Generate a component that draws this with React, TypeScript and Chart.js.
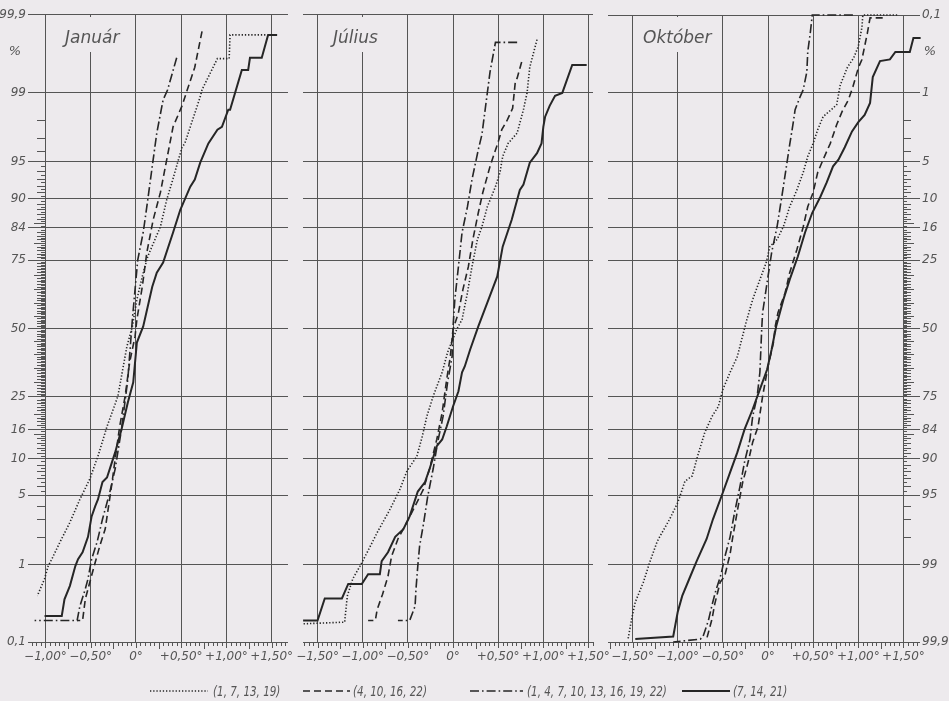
import React, { useEffect, useRef } from "react";
import { Chart, registerables } from "chart.js";
Chart.register(...registerables);

// ---------------- data ----------------
// y grid / label percentages (probability scale)
const yTickPercents = [0.1, 1, 5, 10, 16, 25, 50, 75, 84, 90, 95, 99, 99.9];
const yTickLabels = ["0,1", "1", "5", "10", "16", "25", "50", "75", "84", "90", "95", "99", "99,9"];

const xTicksJan = [-1, -0.5, 0, 0.5, 1, 1.5];
const xLabelsJan = ["\u22121,00\u00b0", "\u22120,50\u00b0", "0\u00b0", "+0,50\u00b0", "+1,00\u00b0", "+1,50\u00b0"];
const xTicksWide = [-1.5, -1, -0.5, 0, 0.5, 1, 1.5];
const xLabelsWide = ["\u22121,50\u00b0", "\u22121,00\u00b0", "\u22120,50\u00b0", "0\u00b0", "+0,50\u00b0", "+1,00\u00b0", "+1,50\u00b0"];

const panelTitles = ["Január", "Július", "Október"];
const legendLabels = ["(1, 7, 13, 19)", "(4, 10, 16, 22)", "(1, 4, 7, 10, 13, 16, 19, 22)", "(7, 14, 21)"];

// [deviation °C, cumulative %]
const janDotted = [[1.43,99.81],[1.04,99.81],[1.03,99.61],[0.9,99.61],[0.73,99.07],[0.71,98.88],[0.54,96.6],[0.51,96.3],[0.46,94.9],[0.40,92.6],[0.34,89.8],[0.27,84.2],[0.13,76.1],[0.07,69.6],[0.01,61.2],[-0.04,50.8],[-0.10,43.0],[-0.20,25.2],[-0.32,16.7],[-0.42,10.4],[-0.51,6.9],[-0.62,4.6],[-0.73,2.8],[-0.84,1.76],[-0.93,1.15],[-0.97,0.96],[-1.01,0.68],[-1.09,0.42]];
const janDashed = [[0.73,99.83],[0.65,99.5],[0.56,99.02],[0.51,98.6],[0.41,97.66],[0.34,95.2],[0.27,91.0],[0.19,85.8],[0.12,77.3],[0.07,66.0],[0.01,53.5],[-0.01,46.9],[-0.07,36.9],[-0.12,25.2],[-0.18,16.7],[-0.23,9.9],[-0.27,6.0],[-0.34,2.4],[-0.40,1.6],[-0.45,1.06],[-0.51,0.62],[-0.56,0.38],[-0.59,0.2],[-0.65,0.2]];
const janDashDot = [[0.45,99.62],[0.35,99.07],[0.30,98.79],[0.23,97.3],[0.18,94.5],[0.12,88.5],[0.08,82.8],[0.02,75.1],[-0.01,65.0],[-0.04,53.5],[-0.09,30.8],[-0.16,16.0],[-0.23,8.3],[-0.29,5.3],[-0.37,3.0],[-0.43,1.76],[-0.49,1.15],[-0.53,0.68],[-0.56,0.51],[-0.62,0.31],[-0.65,0.2],[-1.12,0.2]];
const janSolid = [[1.56,99.81],[1.46,99.81],[1.39,99.62],[1.26,99.62],[1.24,99.46],[1.17,99.46],[1.04,98.45],[1.02,98.45],[0.95,97.66],[0.90,97.5],[0.80,96.6],[0.71,94.9],[0.65,92.9],[0.60,91.9],[0.49,87.9],[0.41,82.8],[0.30,74.2],[0.23,70.9],[0.18,66.0],[0.08,50.8],[0.01,44.5],[-0.03,29.8],[-0.09,23.3],[-0.16,16.0],[-0.23,11.1],[-0.32,7.1],[-0.37,6.5],[-0.42,4.6],[-0.45,4.0],[-0.49,3.2],[-0.53,2.0],[-0.59,1.37],[-0.64,1.15],[-0.67,0.96],[-0.73,0.56],[-0.79,0.38],[-0.82,0.23],[-1.01,0.23]];

const julDotted = [[0.93,99.78],[0.85,99.5],[0.82,98.99],[0.78,98.45],[0.71,97.3],[0.61,96.6],[0.55,95.5],[0.52,93.8],[0.47,91.9],[0.38,88.5],[0.32,84.2],[0.27,81.0],[0.21,72.9],[0.16,63.8],[0.10,53.5],[0.04,49.6],[-0.06,40.7],[-0.12,33.3],[-0.22,25.2],[-0.29,19.3],[-0.34,14.4],[-0.40,10.4],[-0.51,8.0],[-0.59,5.6],[-0.70,3.7],[-0.83,2.3],[-0.95,1.37],[-1.03,0.96],[-1.11,0.68],[-1.17,0.42],[-1.20,0.19],[-1.66,0.18]];
const julDashed = [[0.76,99.57],[0.71,99.32],[0.69,99.25],[0.66,98.5],[0.60,98.0],[0.54,97.5],[0.50,96.7],[0.41,94.5],[0.33,91.0],[0.28,87.3],[0.22,81.0],[0.17,72.9],[0.11,65.0],[0.06,56.2],[0.0,49.6],[-0.03,39.1],[-0.07,30.8],[-0.12,20.4],[-0.18,13.7],[-0.26,8.3],[-0.33,5.6],[-0.44,3.7],[-0.53,2.6],[-0.61,1.9],[-0.68,1.24],[-0.72,0.73],[-0.78,0.44],[-0.84,0.28],[-0.86,0.2],[-0.94,0.2]];
const julDashDot = [[0.71,99.76],[0.47,99.76],[0.41,99.43],[0.37,98.79],[0.32,97.2],[0.28,96.1],[0.21,92.9],[0.16,88.5],[0.10,82.8],[0.06,72.9],[0.02,61.2],[0.0,50.4],[-0.01,39.1],[-0.06,29.8],[-0.11,19.3],[-0.17,13.1],[-0.22,8.3],[-0.28,4.9],[-0.33,2.6],[-0.37,1.6],[-0.39,0.96],[-0.41,0.51],[-0.42,0.31],[-0.48,0.2],[-0.61,0.2]];
const julSolid = [[1.48,99.53],[1.32,99.53],[1.21,98.99],[1.13,98.91],[1.07,98.59],[1.02,98.16],[1.0,97.66],[0.98,96.6],[0.93,95.8],[0.85,94.9],[0.78,92.2],[0.74,91.4],[0.65,85.8],[0.55,79.0],[0.49,69.6],[0.38,60.1],[0.28,50.8],[0.19,41.8],[0.13,35.4],[0.10,33.3],[0.06,26.8],[0.0,22.1],[-0.07,16.7],[-0.12,13.7],[-0.18,12.3],[-0.26,8.3],[-0.31,6.5],[-0.39,5.4],[-0.48,3.2],[-0.55,2.4],[-0.64,2.0],[-0.72,1.37],[-0.79,1.09],[-0.81,0.77],[-0.94,0.77],[-1.01,0.59],[-1.16,0.59],[-1.23,0.39],[-1.42,0.39],[-1.50,0.2],[-1.66,0.2]];

// October: percentages as read on the right-hand (reversed) scale
const octDotted = [[1.43,0.1],[1.05,0.1],[1.04,0.15],[1.0,0.27],[0.95,0.38],[0.88,0.5],[0.80,0.82],[0.76,1.37],[0.71,1.52],[0.61,1.84],[0.55,2.5],[0.50,3.4],[0.44,4.5],[0.39,6.2],[0.32,8.6],[0.24,11.5],[0.17,15.8],[0.10,19.0],[0.02,21.0],[-0.02,25.8],[-0.09,31.5],[-0.17,38.8],[-0.24,47.2],[-0.34,60.9],[-0.42,66.7],[-0.50,72.6],[-0.55,77.9],[-0.62,80.7],[-0.70,84.7],[-0.78,89.6],[-0.84,92.7],[-0.92,93.4],[-1.0,95.7],[-1.09,97.0],[-1.20,98.0],[-1.23,98.24],[-1.31,98.94],[-1.38,99.38],[-1.47,99.65],[-1.51,99.79],[-1.55,99.89]];
const octDashed = [[1.27,0.11],[1.13,0.11],[1.10,0.18],[1.04,0.40],[1.0,0.51],[0.94,0.86],[0.89,1.21],[0.82,1.63],[0.76,2.23],[0.69,3.4],[0.61,4.8],[0.55,6.2],[0.50,9.0],[0.44,11.5],[0.39,15.8],[0.32,21.8],[0.24,29.1],[0.19,36.2],[0.11,43.8],[0.08,49.2],[0.06,55.5],[0.0,64.6],[-0.06,74.8],[-0.11,83.3],[-0.17,86.9],[-0.22,90.6],[-0.28,93.5],[-0.33,96.0],[-0.39,98.0],[-0.42,98.69],[-0.48,99.27],[-0.53,99.38],[-0.59,99.67],[-0.62,99.79],[-0.68,99.89]];
const octDashDot = [[0.94,0.1],[0.49,0.1],[0.47,0.17],[0.44,0.32],[0.43,0.57],[0.39,0.93],[0.35,1.15],[0.30,1.55],[0.28,2.1],[0.24,3.5],[0.21,5.1],[0.16,9.0],[0.10,15.8],[0.04,22.7],[-0.01,32.5],[-0.06,43.8],[-0.07,50.4],[-0.09,66.7],[-0.12,74.8],[-0.17,80.7],[-0.20,86.3],[-0.26,90.6],[-0.31,94.0],[-0.37,96.5],[-0.42,98.0],[-0.47,98.69],[-0.52,99.23],[-0.58,99.52],[-0.62,99.68],[-0.66,99.8],[-0.72,99.88],[-0.75,99.89],[-1.05,99.9]];
const octSolid = [[1.69,0.21],[1.61,0.21],[1.57,0.32],[1.41,0.32],[1.35,0.40],[1.24,0.42],[1.16,0.66],[1.13,1.31],[1.07,1.76],[1.0,2.1],[0.93,2.6],[0.85,3.7],[0.78,4.8],[0.72,5.5],[0.65,7.5],[0.58,9.7],[0.49,12.7],[0.41,17.2],[0.33,23.9],[0.24,31.5],[0.17,38.8],[0.09,49.2],[0.04,58.2],[-0.01,65.7],[-0.09,72.6],[-0.17,78.7],[-0.26,84.0],[-0.34,88.9],[-0.42,92.2],[-0.50,94.7],[-0.61,97.0],[-0.68,98.1],[-0.79,98.91],[-0.86,99.27],[-0.95,99.58],[-1.0,99.74],[-1.05,99.88],[-1.47,99.89]];

// ---------------- styling ----------------
const BG = "#edeaed";
const INK = "#262626";
const GRID = "#555555";
const TEXT = "#555555";
const FONT = "'DejaVu Sans', sans-serif";

const seriesStyles = [
  { dash: [1.3, 1.9], width: 1.6 },
  { dash: [7, 4], width: 1.6 },
  { dash: [9, 3, 1.6, 3], width: 1.6 },
  { dash: [], width: 2 },
];

function probit(p: number): number {
  const a = [-3.969683028665376e1, 2.209460984245205e2, -2.759285104469687e2, 1.38357751867269e2, -3.066479806614716e1, 2.506628277459239];
  const b = [-5.447609879822406e1, 1.615858368580409e2, -1.556989798598866e2, 6.680131188771972e1, -1.328068155288572e1];
  const c = [-7.784894002430293e-3, -3.223964580411365e-1, -2.400758277161838, -2.549732539343734, 4.374664141464968, 2.938163982698783];
  const d = [7.784695709041462e-3, 3.224671290700398e-1, 2.445134137142996, 3.754408661907416];
  const pl = 0.02425;
  if (p < pl) {
    const q = Math.sqrt(-2 * Math.log(p));
    return (((((c[0] * q + c[1]) * q + c[2]) * q + c[3]) * q + c[4]) * q + c[5]) / ((((d[0] * q + d[1]) * q + d[2]) * q + d[3]) * q + 1);
  }
  if (p <= 1 - pl) {
    const q = p - 0.5, r = q * q;
    return ((((((a[0] * r + a[1]) * r + a[2]) * r + a[3]) * r + a[4]) * r + a[5]) * q) / (((((b[0] * r + b[1]) * r + b[2]) * r + b[3]) * r + b[4]) * r + 1);
  }
  const q = Math.sqrt(-2 * Math.log(1 - p));
  return -(((((c[0] * q + c[1]) * q + c[2]) * q + c[3]) * q + c[4]) * q + c[5]) / ((((d[0] * q + d[1]) * q + d[2]) * q + d[3]) * q + 1);
}
const ZMAX = probit(0.999);

type PanelCfg = {
  title: string; series: number[][][]; xMin: number; xMax: number; xTicks: number[]; xLabels: string[];
  left: number; width: number; padLeft: number; padRight: number; yWidth: number; yPos: "left" | "right";
  yLabels: boolean; reversed: boolean; gapValue: number; titleOffset: number;
  minorAt: number | null; minorDir: number; percentSide: "left" | "right" | null;
};

const panels: PanelCfg[] = [
  { title: panelTitles[0], series: [janDotted, janDashed, janDashDot, janSolid], xMin: -1.193, xMax: 1.68, xTicks: xTicksJan, xLabels: xLabelsJan,
    left: 0, width: 300, padLeft: 0, padRight: 12, yWidth: 28, yPos: "left", yLabels: true, reversed: false, gapValue: -0.5, titleOffset: 37,
    minorAt: -1, minorDir: -1, percentSide: "left" },
  { title: panelTitles[1], series: [julDotted, julDashed, julDashDot, julSolid], xMin: -1.661, xMax: 1.55, xTicks: xTicksWide, xLabels: xLabelsWide,
    left: 290, width: 326, padLeft: 13, padRight: 23, yWidth: 0, yPos: "left", yLabels: false, reversed: false, gapValue: -1, titleOffset: 30,
    minorAt: null, minorDir: 0, percentSide: null },
  { title: panelTitles[2], series: [octDotted, octDashed, octDashDot, octSolid], xMin: -1.772, xMax: 1.683, xTicks: xTicksWide, xLabels: xLabelsWide,
    left: 600, width: 349, padLeft: 8, padRight: 0, yWidth: 29, yPos: "right", yLabels: true, reversed: true, gapValue: -1, titleOffset: 35,
    minorAt: 1.5, minorDir: 1, percentSide: "right" },
];

const gridPercents = new Set(yTickPercents);
function minorPercents(): { p: number; len: number }[] {
  const out: { p: number; len: number }[] = [];
  for (let k = 2; k <= 196; k++) {
    const p = k / 2;
    if (gridPercents.has(p)) continue;
    const isInt = k % 2 === 0;
    if (!isInt && (p < 5 || p > 95)) continue;
    const len = isInt ? (p % 5 === 0 ? 11 : 8) : 4;
    out.push({ p, len });
  }
  return out;
}

function makeDecor(cfg: PanelCfg) {
  return {
    id: "decor",
    beforeDatasetsDraw(chart: any) {
      const { ctx, chartArea } = chart;
      const x = chart.scales.x, y = chart.scales.y;
      ctx.save();
      // break in the grid line behind the title
      const gx = x.getPixelForValue(cfg.gapValue);
      ctx.fillStyle = BG;
      ctx.fillRect(gx - 2, chartArea.top + 2, 4, 52 - chartArea.top - 2);
      // title
      ctx.fillStyle = TEXT;
      ctx.font = "italic 17px " + FONT;
      ctx.textAlign = "left";
      ctx.textBaseline = "middle";
      ctx.fillText(cfg.title, chartArea.left + cfg.titleOffset, 39);
      // x tick labels
      ctx.font = "italic 12px " + FONT;
      ctx.textAlign = "center";
      cfg.xTicks.forEach((v, i) => {
        ctx.fillText(cfg.xLabels[i], x.getPixelForValue(v), chartArea.bottom + 15);
      });
      // minor ticks on the x axis (every 0.05°)
      ctx.strokeStyle = GRID;
      ctx.lineWidth = 1;
      const k0 = Math.ceil(cfg.xMin / 0.05 - 1e-6);
      const k1 = Math.floor(cfg.xMax / 0.05 + 1e-6);
      for (let k = k0; k <= k1; k++) {
        const px = Math.round(x.getPixelForValue(k * 0.05)) + 0.5;
        const len = k % 10 === 0 ? 6 : k % 5 === 0 ? 7 : 4;
        ctx.beginPath();
        ctx.moveTo(px, chartArea.bottom);
        ctx.lineTo(px, chartArea.bottom + len);
        ctx.stroke();
      }
      // minor ticks on the probability scale
      if (cfg.minorAt !== null) {
        const bx = Math.round(x.getPixelForValue(cfg.minorAt));
        for (const m of minorPercents()) {
          const py = Math.round(y.getPixelForValue(probit(m.p / 100))) + 0.5;
          ctx.beginPath();
          ctx.moveTo(bx, py);
          ctx.lineTo(bx + cfg.minorDir * m.len, py);
          ctx.stroke();
        }
      }
      // % sign
      if (cfg.percentSide) {
        ctx.fillStyle = TEXT;
        ctx.font = "italic 13px " + FONT;
        ctx.textAlign = "center";
        ctx.textBaseline = "middle";
        const px = cfg.percentSide === "left" ? chartArea.left - 13 : chartArea.right + 10;
        ctx.fillText("%", px, 52);
      }
      ctx.restore();
    },
  };
}

function Panel({ cfg }: { cfg: PanelCfg }) {
  const ref = useRef<HTMLCanvasElement | null>(null);
  useEffect(() => {
    if (!ref.current) return;
    const datasets = cfg.series.map((s, i) => ({
      data: s.map(([xv, p]) => ({ x: xv, y: probit(p / 100) })),
      borderColor: INK,
      borderWidth: seriesStyles[i].width,
      borderDash: seriesStyles[i].dash,
      borderCapStyle: "butt",
      pointRadius: 0,
      fill: false,
      tension: 0,
      clip: false,
    }));
    const chart = new Chart(ref.current, {
      type: "line",
      data: { datasets } as any,
      options: {
        animation: false,
        responsive: false,
        devicePixelRatio: 1,
        events: [],
        layout: { padding: { left: cfg.padLeft, right: cfg.padRight, top: 15, bottom: 0 } },
        plugins: { legend: { display: false }, tooltip: { enabled: false } },
        scales: {
          x: {
            type: "linear",
            min: cfg.xMin,
            max: cfg.xMax,
            afterBuildTicks: (s: any) => { s.ticks = cfg.xTicks.map((v) => ({ value: v })); },
            afterFit: (s: any) => { s.height = 59; },
            grid: { color: GRID, lineWidth: 1, drawTicks: false },
            border: { display: false },
            ticks: { display: false },
          },
          y: {
            type: "linear",
            position: cfg.yPos,
            reverse: cfg.reversed,
            min: -ZMAX,
            max: ZMAX,
            afterBuildTicks: (s: any) => { s.ticks = yTickPercents.map((p) => ({ value: probit(p / 100) })); },
            afterFit: (s: any) => { s.width = cfg.yWidth; },
            grid: { color: GRID, lineWidth: 1, drawTicks: false },
            border: { display: false },
            ticks: {
              display: cfg.yLabels, autoSkip: false, padding: 2, color: TEXT,
              font: { family: FONT, size: 12, style: "italic" },
              callback: (_v: any, i: number) => yTickLabels[i],
            },
          },
        },
      } as any,
      plugins: [makeDecor(cfg)],
    });
    return () => chart.destroy();
  }, [cfg]);
  return (
    <canvas ref={ref} width={cfg.width} height={701}
      style={{ position: "absolute", left: cfg.left, top: 0, width: cfg.width, height: 701 }} />
  );
}

const legendLayout = [
  { sampleX: 150, sampleW: 58, textX: 213 },
  { sampleX: 303, sampleW: 47, textX: 353 },
  { sampleX: 470, sampleW: 53, textX: 527 },
  { sampleX: 682, sampleW: 48, textX: 733 },
];

function Legend() {
  return (
    <>
      {legendLabels.map((lab, i) => {
        const L = legendLayout[i];
        const st = seriesStyles[i];
        return (
          <React.Fragment key={i}>
            <svg style={{ position: "absolute", left: L.sampleX, top: 688 }} width={L.sampleW} height={6}>
              <line x1={0} y1={3} x2={L.sampleW} y2={3} stroke={INK} strokeWidth={st.width}
                strokeDasharray={st.dash.length ? st.dash.join(" ") : undefined} />
            </svg>
            <div style={{
              position: "absolute", left: L.textX, top: 681, height: 20, lineHeight: "20px",
              fontFamily: FONT, fontStyle: "italic", fontSize: 14, color: TEXT, whiteSpace: "nowrap",
              transform: "scaleX(0.74)", transformOrigin: "0 50%",
            }}>{lab}</div>
          </React.Fragment>
        );
      })}
    </>
  );
}

export default function App() {
  return (
    <div style={{ position: "absolute", left: 0, top: 0, width: 949, height: 701, background: BG, overflow: "hidden" }}>
      {panels.map((p, i) => <Panel key={i} cfg={p} />)}
      <Legend />
    </div>
  );
}
